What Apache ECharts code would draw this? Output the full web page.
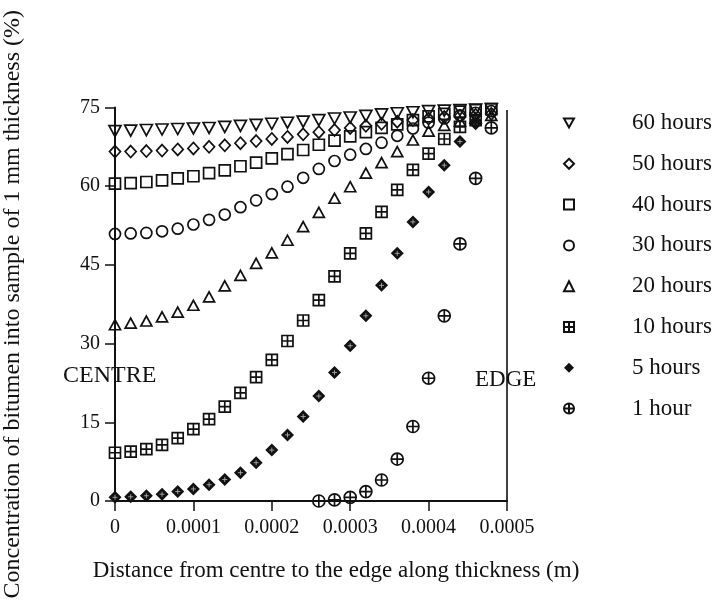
<!DOCTYPE html>
<html><head><meta charset="utf-8">
<script src="https://cdn.jsdelivr.net/npm/echarts@6/dist/echarts.min.js"></script>
<style>html,body{margin:0;padding:0;background:#fff}#c{width:718px;height:607px}</style>
</head><body><div id="c"></div>
<script>
// ---- data ----
const xVals = [0, 0.00002, 0.00004, 0.00006, 0.00008, 0.0001, 0.00012, 0.00014, 0.00016, 0.00018,
  0.0002, 0.00022, 0.00024, 0.00026, 0.00028, 0.0003, 0.00032, 0.00034, 0.00036, 0.00038,
  0.0004, 0.00042, 0.00044, 0.00046, 0.00048];
const h60 = [70.5,70.6,70.7,70.8,70.9,71.0,71.1,71.3,71.5,71.7,71.9,72.1,72.3,72.6,72.9,73.1,73.4,73.7,73.9,74.1,74.3,74.4,74.5,74.6,74.7];
const h50 = [66.6,66.6,66.7,66.8,67.0,67.2,67.5,67.8,68.2,68.6,69.0,69.4,69.9,70.3,70.7,71.1,71.5,71.9,72.3,72.6,72.9,73.2,73.4,73.6,73.8];
const h40 = [60.5,60.6,60.8,61.1,61.5,61.9,62.5,63.0,63.8,64.5,65.3,66.1,66.9,67.9,68.7,69.5,70.3,71.1,71.8,72.6,73.3,73.8,74.2,74.5,74.7];
const h30 = [50.9,51.0,51.1,51.4,51.9,52.7,53.6,54.6,56.0,57.3,58.5,59.9,61.6,63.3,64.8,66.0,67.1,68.3,69.6,71.0,72.1,72.9,73.5,74.0,74.3];
const h20 = [33.6,33.9,34.3,35.1,36.0,37.3,38.9,41.0,43.0,45.3,47.3,49.7,52.3,55.0,57.7,59.9,62.5,64.5,66.6,68.8,70.5,71.6,72.4,73.0,73.5];
const h10 = [9.2,9.4,9.9,10.7,12.0,13.7,15.6,18.0,20.6,23.6,26.9,30.5,34.4,38.3,42.8,47.2,51.0,55.1,59.3,63.1,66.2,69.0,71.3,72.6,null];
const h5  = [0.7,0.8,1.0,1.3,1.8,2.3,3.1,4.1,5.4,7.3,9.7,12.6,16.1,20.0,24.5,29.6,35.3,41.1,47.2,53.2,58.9,64.0,68.5,71.9,null];
const h1  = [null,null,null,null,null,null,null,null,null,null,null,null,null,0.0,0.2,0.7,1.8,4.0,8.0,14.2,23.4,35.3,49.0,61.5,71.1];
const seriesNames = ['60 hours','50 hours','40 hours','30 hours','20 hours','10 hours','5 hours','1 hour'];
const yTicks = [0, 15, 30, 45, 60, 75];
const xTickStep = 0.0001;
const xMax = 0.0005;
const edgeTop = 74.5;

// ---- styling ----
const FONT = "'Liberation Serif','Times New Roman',serif";
const INK = '#111';
const HOLLOW = 'rgba(255,255,255,0)';
const SYM_DOWN = 'path://M0,0L10,0L5,9Z';
const SYM_SQCROSS = 'path://M0,0L10,0L10,10L0,10ZM5,0L5,10M0,5L10,5';
const SYM_CIRCROSS = 'path://M0,5A5,5,0,1,1,10,5A5,5,0,1,1,0,5ZM5,0L5,10M0,5L10,5';
const SYM_PLUS = 'path://M5,1L5,9M1,5L9,5';

function pts(vals) {
  const out = [];
  vals.forEach((v, i) => { if (v !== null) out.push([xVals[i], v]); });
  return out;
}
function mk(name, vals, symbol, size, filled) {
  return {
    type: 'scatter', name, data: pts(vals), symbol, symbolSize: size,
    itemStyle: { color: filled ? INK : HOLLOW, borderColor: INK, borderWidth: filled ? 0 : 1.7, opacity: 1 },
    emphasis: { disabled: true }, silent: true
  };
}
const series = [
  mk(seriesNames[7], h1, SYM_CIRCROSS, 12, false),
  mk(seriesNames[6], h5, 'diamond', 13, true),
  {
    type: 'scatter', name: '5 hours cross', data: pts(h5), symbol: SYM_PLUS, symbolSize: 5,
    itemStyle: { color: HOLLOW, borderColor: '#bbb', borderWidth: 0.8, opacity: 1 },
    emphasis: { disabled: true }, silent: true
  },
  mk(seriesNames[5], h10, SYM_SQCROSS, 11, false),
  mk(seriesNames[4], h20, 'triangle', [11, 10], false),
  mk(seriesNames[3], h30, 'circle', 11, false),
  mk(seriesNames[2], h40, 'rect', 11, false),
  mk(seriesNames[1], h50, 'diamond', [11, 12], false),
  mk(seriesNames[0], h60, SYM_DOWN, [12, 11], false)
];
series[0].markLine = {
  silent: true, symbol: 'none', label: { show: false },
  lineStyle: { color: INK, width: 1.6, type: 'solid' },
  data: [[{ coord: [xMax, 0] }, { coord: [xMax, edgeTop] }]]
};

const chart = echarts.init(document.getElementById('c'), null, { renderer: 'canvas' });
chart.setOption({
  animation: false,
  backgroundColor: '#fff',
  textStyle: { fontFamily: FONT, color: INK },
  grid: { left: 115, right: 211, top: 107.5, bottom: 106, containLabel: false, outerBoundsMode: 'none' },
  xAxis: {
    type: 'value', min: 0, max: xMax, interval: xTickStep,
    name: 'Distance from centre to the edge along thickness (m)',
    nameLocation: 'middle', nameGap: 58,
    nameTextStyle: { fontFamily: FONT, fontSize: 23, color: INK, padding: [0, 0, 0, 50] },
    axisLine: { show: true, onZero: false, lineStyle: { color: INK, width: 2 } },
    axisTick: { show: true, inside: false, length: 10, lineStyle: { color: INK, width: 1.5 } },
    axisLabel: { fontFamily: FONT, fontSize: 20, color: INK, margin: 17,
      formatter: v => (v === 0 ? '0' : v.toFixed(4)), showMinLabel: true, showMaxLabel: true },
    splitLine: { show: false }
  },
  yAxis: {
    type: 'value', min: yTicks[0], max: yTicks[yTicks.length - 1], interval: 15,
    name: 'Concentration of bitumen into sample of 1 mm thickness (%)',
    nameLocation: 'middle', nameGap: 90, nameRotate: 90,
    nameTextStyle: { fontFamily: FONT, fontSize: 24, color: INK },
    axisLine: { show: true, lineStyle: { color: INK, width: 2 } },
    axisTick: { show: true, inside: false, length: 10, lineStyle: { color: INK, width: 1.5 } },
    axisLabel: { fontFamily: FONT, fontSize: 20, color: INK, margin: 15 },
    splitLine: { show: false }
  },
  legend: {
    orient: 'vertical', left: 558, top: 106.5, itemWidth: 10, itemHeight: 10, itemGap: 17.8,
    selectedMode: false,
    data: seriesNames,
    textStyle: { fontFamily: FONT, fontSize: 23, color: INK, padding: [0, 0, 0, 53] }
  },
  graphic: [
    { type: 'text', x: 63, y: 376, silent: true,
      style: { text: 'CENTRE', fontFamily: FONT, fontSize: 24, fill: INK, verticalAlign: 'middle' } },
    { type: 'text', x: 475, y: 380, silent: true,
      style: { text: 'EDGE', fontFamily: FONT, fontSize: 23, fill: INK, verticalAlign: 'middle' } }
  ],
  series
});
</script>
</body></html>
